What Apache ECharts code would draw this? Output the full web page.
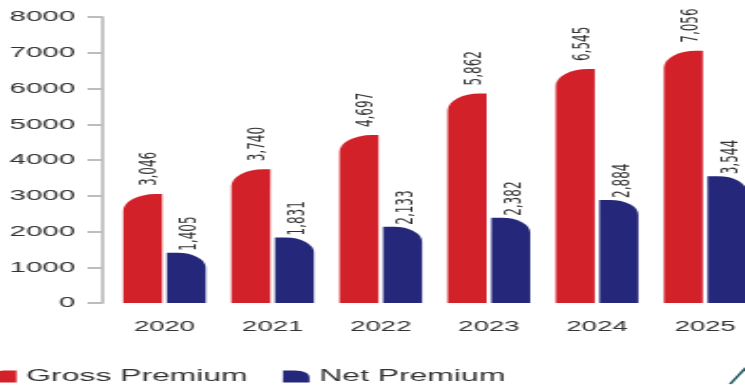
<!DOCTYPE html>
<html>
<head>
<meta charset="utf-8">
<script src="https://cdn.jsdelivr.net/npm/echarts@6/dist/echarts.min.js"></script>
<style>
  html, body { margin: 0; padding: 0; background: #ffffff; overflow: hidden; }
  #wrap { width: 745px; height: 385px; overflow: hidden; }
  /* the chart is laid out narrow and stretched sideways, giving the wide lettering */
  #chart { width: 392px; height: 385px; transform: scaleX(1.9005); transform-origin: 0 0; }
</style>
</head>
<body>
<div id="wrap"><div id="chart"></div></div>
<script>
// Premium figures by year
const categories = ['2020', '2021', '2022', '2023', '2024', '2025'];
const grossPremium = [3046, 3740, 4697, 5862, 6545, 7056];
const netPremium = [1405, 1831, 2133, 2382, 2884, 3544];
const yAxisMin = 0;
const yAxisMax = 8000;
const yAxisStep = 1000;

const RED = '#d3212a';
const NAVY = '#25287a';
const TEXT = '#333333';
const AXIS_GREY = '#bdbdbd';

const fmt = v => Number(v).toLocaleString('en-US');

const chart = echarts.init(document.getElementById('chart'), null, { renderer: 'canvas' });

const valueLabel = (distance, shift) => ({
  show: true,
  position: 'top',
  rotate: 90,
  align: 'left',
  verticalAlign: 'middle',
  distance: distance,
  offset: [0, shift],
  fontFamily: 'DejaVu Sans',
  fontSize: 12,
  color: TEXT,
  formatter: p => fmt(p.value)
});

chart.setOption({
  animation: false,
  backgroundColor: '#ffffff',
  grid: {
    left: 58.1,
    right: -7.5,
    top: 17,
    bottom: 82,
    containLabel: false,
    outerBoundsMode: 'none'
  },
  legend: {
    left: -5.3,
    top: 368,
    padding: 0,
    itemWidth: 14.2,
    itemHeight: 12,
    itemGap: 18.5,
    textStyle: { fontFamily: 'Liberation Sans', fontSize: 16.8, color: TEXT },
    data: [
      { name: 'Gross Premium', icon: 'path://M0,12 L0,6 C0,2 4,0 9,0 L14,0 L14,12 Z' },
      { name: 'Net Premium', icon: 'path://M0,0 L6,0 C11,0 14,3 14,7 L14,12 L0,12 Z' }
    ]
  },
  xAxis: {
    type: 'category',
    data: categories,
    axisLine: { show: false },
    axisTick: { show: false },
    axisLabel: {
      margin: 16,
      fontFamily: 'Liberation Sans',
      fontSize: 14.5,
      color: TEXT
    }
  },
  yAxis: {
    type: 'value',
    min: yAxisMin,
    max: yAxisMax,
    interval: yAxisStep,
    offset: 4.2,
    splitLine: { show: false },
    axisLine: { show: true, lineStyle: { color: AXIS_GREY, width: 1.7 } },
    axisTick: { show: true, inside: false, length: 7.9, lineStyle: { color: AXIS_GREY, width: 2 } },
    axisLabel: {
      margin: 14.4,
      fontFamily: 'Liberation Sans',
      fontSize: 15.5,
      color: TEXT,
      formatter: v => String(v)
    }
  },
  series: [
    {
      name: 'Gross Premium',
      type: 'bar',
      data: grossPremium,
      barWidth: 20.5,
      barGap: '12%',
      itemStyle: { color: RED, borderRadius: [17, 0, 0, 0] },
      label: valueLabel(8, 4.2)
    },
    {
      name: 'Net Premium',
      type: 'bar',
      data: netPremium,
      barWidth: 20.5,
      itemStyle: { color: NAVY, borderRadius: [0, 15, 0, 0] },
      label: valueLabel(2, 2.1)
    }
  ],
  graphic: [
    {
      type: 'line',
      shape: { x1: 384.2, y1: 384, x2: 392.5, y2: 367.5 },
      style: { stroke: '#1d5b5e', lineWidth: 1.6 },
      silent: true
    }
  ]
});
</script>
</body>
</html>
